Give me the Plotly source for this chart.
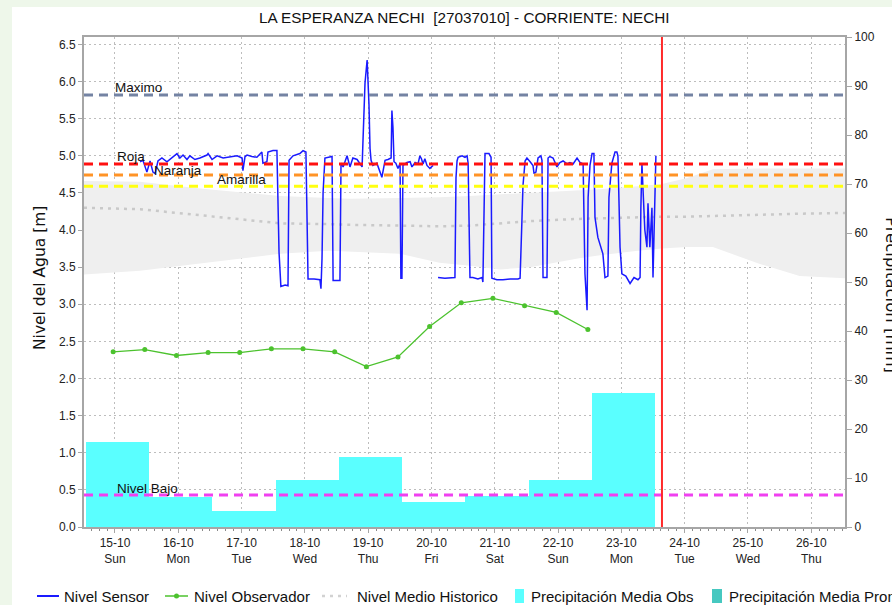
import pandas as pd
import plotly.graph_objects as go

# ---------------- data ----------------
BASE = pd.Timestamp("2023-10-15 00:00")

tick_dates = ["15-10", "16-10", "17-10", "18-10", "19-10", "20-10",
              "21-10", "22-10", "23-10", "24-10", "25-10", "26-10"]
tick_weekdays = ["Sun", "Mon", "Tue", "Wed", "Thu", "Fri",
                 "Sat", "Sun", "Mon", "Tue", "Wed", "Thu"]

# hours after 15-10 00:00 -> level [m]
sensor_readings = [
    (9.5, 4.92), (10.6, 4.94), (12.1, 4.78), (13.3, 4.93), (14.4, 4.78), (15.2, 4.76),
    (16.3, 4.93), (17.8, 4.97), (19.7, 4.92), (21.6, 4.97), (23.5, 5.03), (24.6, 4.97),
    (25.8, 5.01), (27.3, 4.95), (28.4, 5.00), (30.3, 4.95), (32.2, 4.97), (34.9, 5.01),
    (35.3, 5.03), (36.8, 4.95), (38.7, 5.00), (41.0, 4.97), (43.6, 4.98), (46.3, 5.00),
    (48.2, 4.97), (48.5, 4.80), (49.3, 4.99), (50.1, 5.01), (51.9, 4.99), (53.8, 4.98),
    (55.7, 5.05), (56.1, 4.90), (57.6, 4.92), (58.0, 5.05), (59.9, 5.07), (61.4, 5.07),
    (62.2, 3.70), (62.9, 3.24), (64.5, 3.26), (65.6, 3.25), (66.0, 4.94), (67.5, 5.00),
    (70.1, 5.03), (71.3, 5.07), (72.4, 5.05), (72.8, 4.20), (73.2, 3.34), (75.5, 3.34),
    (77.7, 3.33), (78.1, 3.21), (78.5, 3.62), (78.9, 4.50), (79.6, 4.97), (82.3, 4.99),
    (82.7, 3.32), (85.3, 3.32), (85.7, 4.90), (86.5, 4.85), (88.0, 5.00), (89.1, 4.85),
    (90.2, 4.97), (91.8, 4.95), (93.7, 4.85), (94.0, 5.17), (94.8, 5.98), (95.6, 6.29),
    (95.9, 6.05), (96.3, 5.70), (96.7, 5.10), (97.1, 4.94), (97.8, 4.87), (99.3, 4.90),
    (101.2, 4.71), (102.4, 4.94), (103.5, 4.95), (104.7, 4.97), (105.0, 5.61), (105.4, 5.38),
    (105.8, 4.92), (106.5, 4.90), (107.3, 4.83), (108.1, 4.90), (108.4, 3.35), (108.8, 3.35),
    (109.2, 4.87), (110.7, 4.91), (111.9, 4.92), (112.6, 4.85), (113.8, 4.91), (114.9, 4.89),
    (115.6, 5.00), (116.2, 4.96), (116.8, 4.89), (117.5, 4.96), (118.3, 4.87), (119.4, 4.83),
    (120.6, 4.87), (121.5, None), (122.5, 3.36), (125.1, 3.35), (128.9, 3.36), (129.3, 4.70),
    (129.7, 4.93), (130.1, 4.98), (131.6, 5.00), (132.7, 4.98), (133.5, 5.00), (133.9, 4.90),
    (134.6, 3.36), (135.7, 3.36), (137.6, 3.34), (139.2, 3.36), (139.5, 3.30), (140.3, 5.03),
    (141.8, 5.03), (142.6, 4.98), (142.9, 3.35), (144.8, 3.33), (147.1, 3.33), (149.8, 3.34),
    (152.8, 3.34), (153.6, 3.35), (154.3, 4.13), (154.7, 4.60), (155.5, 4.93), (156.2, 4.97),
    (157.4, 4.92), (158.5, 4.87), (158.9, 4.76), (159.6, 4.78), (160.4, 4.97), (161.5, 5.00),
    (161.9, 4.94), (162.3, 3.36), (163.8, 3.36), (164.2, 4.97), (164.9, 4.99), (166.1, 4.97),
    (167.6, 4.85), (168.7, 4.91), (169.9, 4.93), (171.4, 4.89), (172.5, 4.91), (173.7, 4.89),
    (175.2, 4.97), (176.3, 4.91), (177.5, 4.89), (178.2, 3.41), (179.0, 2.92), (179.4, 4.44),
    (180.1, 4.87), (180.9, 5.03), (181.6, 5.03), (182.0, 4.17), (183.1, 3.90), (185.0, 3.68),
    (185.8, 3.36), (186.9, 3.38), (187.3, 4.44), (188.4, 4.90), (189.6, 5.05), (190.3, 5.05),
    (190.7, 5.00), (191.5, 3.77), (192.2, 3.41), (193.7, 3.38), (195.3, 3.28), (196.8, 3.36),
    (198.3, 3.33), (199.1, 3.36), (199.4, 4.30), (199.8, 4.90), (200.2, 4.56), (200.9, 4.00),
    (201.7, 3.77), (202.1, 4.36), (202.8, 3.77), (203.6, 4.30), (204.0, 3.36), (204.8, 4.53),
    (205.1, 5.00),
]

observer_hours = [-0.7, 11.3, 23.3, 35.3, 47.3, 59.3, 71.3, 83.3,
                  95.3, 107.3, 119.3, 131.3, 143.3, 155.3, 167.3, 179.3]
observer_level = [2.36, 2.39, 2.31, 2.35, 2.35, 2.40, 2.40, 2.36,
                  2.16, 2.29, 2.70, 3.02, 3.08, 2.98, 2.89, 2.66]

hist_hours = [-11.75, 9.5, 32.2, 62.6, 81.0, 89.1, 108.1, 123.0, 134.6, 146.0,
              157.4, 176.0, 183.9, 198.3, 207.4, 217.0, 226.7, 244.0, 259.6, 276.8]
hist_upper = [4.66, 4.65, 4.56, 4.46, 4.43, 4.42, 4.43, 4.44, 4.46, 4.48,
              4.50, 4.54, 4.55, 4.59, 4.62, 4.70, 4.82, 4.83, 4.83, 4.83]
hist_lower = [3.40, 3.45, 3.55, 3.68, 3.72, 3.71, 3.68, 3.56, 3.52, 3.47,
              3.50, 3.62, 3.66, 3.72, 3.75, 3.77, 3.77, 3.55, 3.38, 3.35]
hist_mean = [4.30, 4.28, 4.20, 4.09, 4.08, 4.07, 4.06, 4.05, 4.06, 4.09,
             4.12, 4.15, 4.16, 4.17, 4.18, 4.18, 4.19, 4.20, 4.22, 4.23]

precip_center_hours = [0.9, 24.9, 48.9, 72.9, 96.9, 120.9, 144.9, 168.9, 192.9]
precip_obs_mm = [17.4, 6.1, 3.3, 9.5, 14.3, 5.1, 6.3, 9.5, 27.3]

level_names = ["Maximo", "Roja", "Naranja", "Amarilla", "Nivel Bajo"]
level_values = [5.82, 4.89, 4.74, 4.59, 0.43]

now_hours = 207.4
x_range_hours = [-11.75, 276.8]

# ---------------- helpers ----------------
def at(h):
    return BASE + pd.to_timedelta(h, unit="h")

W, H = 892, 605
ML, MR, MT, MB = 84, 47, 37, 78
PW, PH = W - ML - MR, H - MT - MB

def px(x):
    return (x - ML) / PW

def py(y):
    return (H - MB - y) / PH

FONT = "Liberation Sans, Arial, sans-serif"
WIDE = "DejaVu Sans, Verdana, sans-serif"
level_colors = ["#7483a3", "#ff1010", "#ff9326", "#ffff10", "#f040f0"]

fig = go.Figure()

fig.add_trace(go.Bar(
    x=[at(h) for h in precip_center_hours], y=precip_obs_mm,
    width=24 * 3600 * 1000, marker=dict(color="#5affff", line=dict(width=0)),
    yaxis="y", name="Precipitación Media Obs", showlegend=False))

fig.add_trace(go.Scatter(
    x=[at(h) for h in hist_hours], y=hist_lower, yaxis="y2", mode="lines",
    line=dict(width=0, color="#efefef"), showlegend=False, hoverinfo="skip"))
fig.add_trace(go.Scatter(
    x=[at(h) for h in hist_hours], y=hist_upper, yaxis="y2", mode="lines",
    line=dict(width=0, color="#efefef"), fill="tonexty", fillcolor="#efefef",
    showlegend=False, hoverinfo="skip"))
fig.add_trace(go.Scatter(
    x=[at(h) for h in hist_hours], y=hist_mean, yaxis="y2", mode="lines",
    line=dict(width=2.5, color="#c9c9c9", dash="3px,5px"),
    name="Nivel Medio Historico", showlegend=False))

fig.add_trace(go.Scatter(
    x=[at(h) for h, _ in sensor_readings], y=[v for _, v in sensor_readings],
    yaxis="y2", mode="lines", connectgaps=False,
    line=dict(width=1.5, color="#1a1aff"), name="Nivel Sensor", showlegend=False))

fig.add_trace(go.Scatter(
    x=[at(h) for h in observer_hours], y=observer_level, yaxis="y2",
    mode="lines+markers", line=dict(width=1.3, color="#4cc22e"),
    marker=dict(size=5, color="#4cc22e"), name="Nivel Observador", showlegend=False))

shapes = []
# white panel on the pale green page
shapes.append(dict(type="rect", xref="paper", yref="paper", x0=px(12), x1=px(W + 5),
                   y0=py(H + 5), y1=py(7), fillcolor="white", line=dict(width=0),
                   layer="below"))
dash_pat = "9px,6px"
for val, col in zip(level_values, level_colors):
    shapes.append(dict(type="line", xref="paper", yref="y2", x0=0, x1=1, y0=val, y1=val,
                       line=dict(color=col, width=3, dash=dash_pat), layer="above"))
shapes.append(dict(type="line", xref="x", yref="paper", x0=at(now_hours), x1=at(now_hours),
                   y0=0, y1=1, line=dict(color="#ff2a2a", width=2), layer="above"))

annotations = []
label_pos = [(113, 87), (115, 156), (152, 170), (215, 180), (115, 488)]
for name, (lx, ly) in zip(level_names, label_pos):
    annotations.append(dict(xref="paper", yref="paper", x=px(lx), y=py(ly), text=name,
                            showarrow=False, xanchor="left", yanchor="middle",
                            font=dict(family=FONT, size=13.5, color="#111")))

annotations.append(dict(xref="paper", yref="paper", x=0.5, y=py(18),
                        text="LA ESPERANZA NECHI  [27037010] - CORRIENTE: NECHI",
                        showarrow=False, xanchor="center", yanchor="middle",
                        font=dict(family=FONT, size=15.3, color="#111")))
annotations.append(dict(xref="paper", yref="paper", x=px(40), y=py(278),
                        text="Nivel del Agua [m]", textangle=-90, showarrow=False,
                        xanchor="center", yanchor="middle",
                        font=dict(family=WIDE, size=15.5, color="#111")))
annotations.append(dict(xref="paper", yref="paper", x=px(892), y=py(295),
                        text="Precipitación [mm]", textangle=90, showarrow=False,
                        xanchor="center", yanchor="middle",
                        font=dict(family=WIDE, size=16.5, color="#111")))

# legend drawn by hand (the last entry is cut by the page edge, as in the reference)
LY = 596
shapes.append(dict(type="line", xref="paper", yref="paper", x0=px(37), x1=px(59),
                   y0=py(LY), y1=py(LY), line=dict(color="#1a1aff", width=2)))
shapes.append(dict(type="line", xref="paper", yref="paper", x0=px(165), x1=px(188),
                   y0=py(LY), y1=py(LY), line=dict(color="#4cc22e", width=1.5)))
shapes.append(dict(type="circle", xref="paper", yref="paper", x0=px(174), x1=px(179),
                   y0=py(LY + 2.5), y1=py(LY - 2.5), fillcolor="#4cc22e",
                   line=dict(width=0)))
shapes.append(dict(type="line", xref="paper", yref="paper", x0=px(322), x1=px(347),
                   y0=py(LY), y1=py(LY), line=dict(color="#d2d2d2", width=2.5, dash="3px,5px")))
shapes.append(dict(type="rect", xref="paper", yref="paper", x0=px(515), x1=px(524),
                   y0=py(LY + 7), y1=py(LY - 7), fillcolor="#5affff", line=dict(width=0)))
shapes.append(dict(type="rect", xref="paper", yref="paper", x0=px(712), x1=px(722),
                   y0=py(LY + 7), y1=py(LY - 7), fillcolor="#46c8c0", line=dict(width=0)))
legend_texts = [(62, "Nivel Sensor"), (192, "Nivel Observador"),
                (355, "Nivel Medio Historico"), (529, "Precipitación Media Obs"),
                (727, "Precipitación Media Pronóstico")]
for lx, t in legend_texts:
    annotations.append(dict(xref="paper", yref="paper", x=px(lx), y=py(LY), text=t,
                            showarrow=False, xanchor="left", yanchor="middle",
                            font=dict(family=FONT, size=15, color="#111")))

axis_col = "#a6a6a6"
grid_col = "#bdbdbd"

fig.update_layout(
    width=W, height=H,
    margin=dict(l=ML, r=MR, t=MT, b=MB),
    paper_bgcolor="#eef7ea", plot_bgcolor="white",
    font=dict(family=FONT, size=12, color="#222"),
    showlegend=False, bargap=0,
    shapes=shapes, annotations=annotations,
    xaxis=dict(
        type="date", range=[at(x_range_hours[0]), at(x_range_hours[1])],
        tickvals=[at(24 * i) for i in range(len(tick_dates))],
        ticktext=[f"{d}<br>{w}" for d, w in zip(tick_dates, tick_weekdays)],
        tickfont=dict(size=12, color="#222"),
        showgrid=True, gridcolor=grid_col, griddash="2px,3px", gridwidth=1,
        showline=True, linecolor=axis_col, linewidth=2, mirror=True,
        ticks="outside", ticklen=4, tickcolor=axis_col,
        minor=dict(ticks="outside", ticklen=2, tickcolor="#8a8a8a",
                   dtick=3 * 3600 * 1000, showgrid=False),
        zeroline=False,
    ),
    yaxis=dict(
        side="right", range=[0, 100], dtick=10, showgrid=False,
        showline=True, linecolor=axis_col, linewidth=2,
        ticks="outside", ticklen=5, tickcolor=axis_col,
        tickfont=dict(size=12, color="#222"), zeroline=False,
    ),
    yaxis2=dict(
        overlaying="y", side="left", range=[0, 6.6],
        tickvals=[i * 0.5 for i in range(14)], tickformat=".1f",
        showgrid=True, gridcolor=grid_col, griddash="2px,3px", gridwidth=1,
        showline=True, linecolor=axis_col, linewidth=2,
        ticks="outside", ticklen=4, tickcolor=axis_col,
        tickfont=dict(size=12, color="#222"), zeroline=False,
    ),
)

fig.write_html(
    "out.html",
    config={"displayModeBar": False},
    post_script="document.body.style.margin='0';document.body.style.overflow='hidden';",
)
